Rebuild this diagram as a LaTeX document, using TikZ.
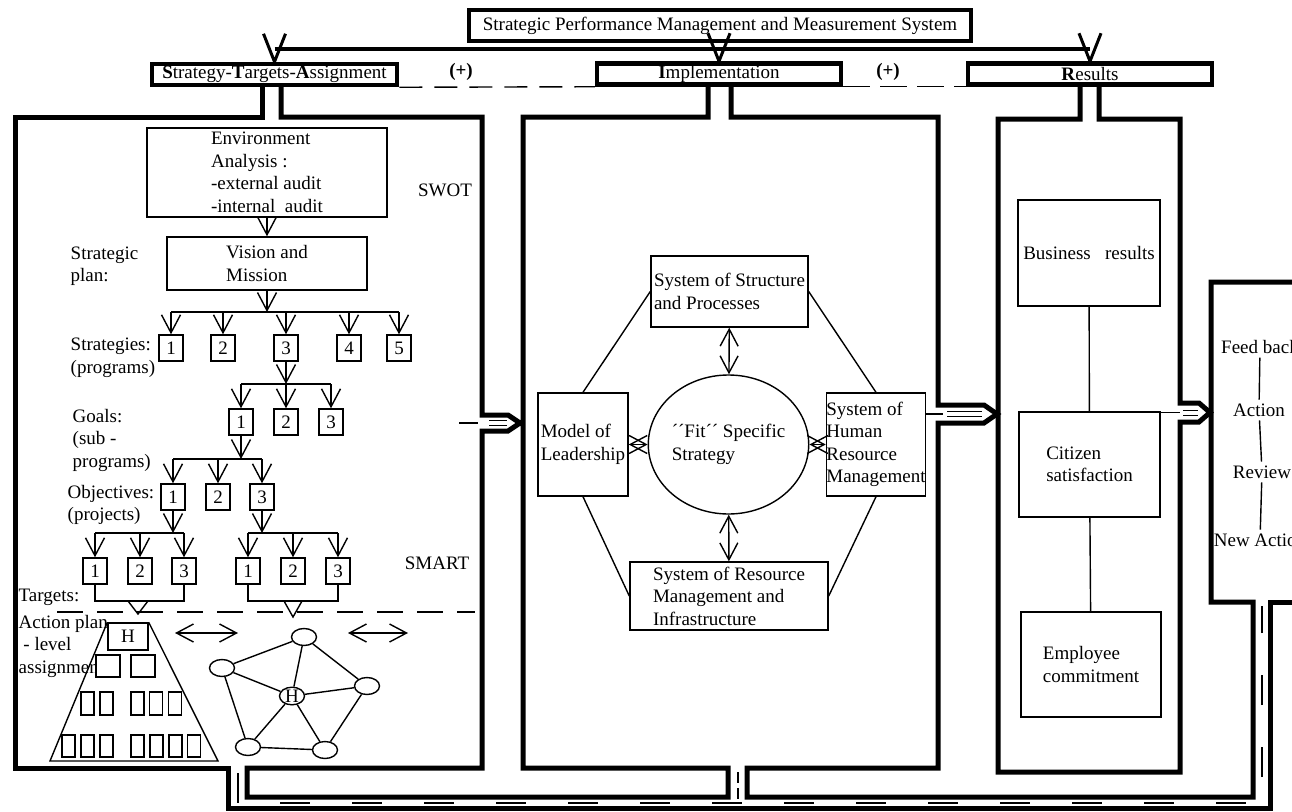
\documentclass[tikz,border=0pt]{standalone}
\usepackage{fontspec}
\setmainfont{Liberation Serif}
\usetikzlibrary{positioning,arrows.meta,shapes.geometric}

\begin{document}
\begin{tikzpicture}[x=1pt,y=-1pt,line width=1.4pt,
  font=\fontsize{19}{22.5}\selectfont,
  head/.style={draw,line width=4.5pt,minimum height=21pt,inner sep=0pt},
  box/.style={draw,fill=white,align=left,inner sep=0pt},
  num/.style={draw,minimum width=24pt,minimum height=26pt,inner sep=0pt},
  sq/.style={draw,fill=white,minimum width=13pt,minimum height=23pt,inner sep=0pt},
  ell/.style={ellipse,draw,minimum width=25pt,minimum height=17pt,inner sep=0pt},
  lbl/.style={anchor=west,align=left,inner sep=0pt},
  frame/.style={line width=5pt},
  tip/.style={-{Straight Barb[length=18pt,width=19pt]}},
  dbl/.style={{Straight Barb[length=17pt,width=18pt]}-{Straight Barb[length=17pt,width=18pt]}},
  pipe/.style={double,double distance=4pt,line width=1pt}]
  \useasboundingbox (0,0) rectangle (1292,811);
  % header
  \node[head,line width=4pt,minimum width=502pt,minimum height=31pt] (title) at (720,25.5)
    {Strategic Performance Management and Measurement System};
  \node[head,minimum width=245pt] (sta) at (274.5,74.5)
    {\textbf{S}trategy-\textbf{T}argets-\textbf{A}ssignment};
  \node[head,minimum width=244pt] (impl) at (719,74) {\textbf{I}mplementation};
  \node[head,minimum width=244pt] (res) at (1090,74) {\textbf{R}esults};
  \node[inner sep=0pt] (plus1) at (461,72) {\textbf{(+)}};
  \node[inner sep=0pt] (plus2) at (888,72) {\textbf{(+)}};
  \coordinate (bar) at (0,49);
  \draw[line width=4pt] (sta.north |- bar) -- (res.north |- bar);
  \foreach \n in {sta,impl,res}
    \draw[line width=3pt] ([shift={(-11,-28)}]\n.north) -- (\n.north) -- ([shift={(11,-28)}]\n.north);
  \draw[dash pattern=on 23pt off 12pt] (sta.south east) -- (impl.south west);
  \draw[dash pattern=on 27pt off 10pt] (impl.south east) -- (res.south west);
  % frames of the panels and the feeds between them
  \draw[frame] (262,86) -- (262,117) -- (15,117) -- (15,768) -- (228,768)
    -- (228,808) -- (1270,808) -- (1270,602) -- (1300,602);
  \draw[frame] (281,86) -- (281,117) -- (482,117) -- (482,415) -- (508,415)
    -- (520,423) -- (508,431) -- (482,431) -- (482,768) -- (247,768)
    -- (247,797) -- (728,797) -- (728,768) -- (523,768) -- (523,117)
    -- (708,117) -- (708,85);
  \draw[frame] (731,85) -- (731,117) -- (938,117) -- (938,405) -- (984,405)
    -- (997,414) -- (984,423) -- (938,423) -- (938,768) -- (747,768)
    -- (747,797) -- (1253,797) -- (1253,602) -- (1211,602) -- (1211,282)
    -- (1300,282);
  \draw[frame] (1080,85) -- (1080,119) -- (998,119) -- (998,772) -- (1180,772)
    -- (1180,422) -- (1199,422) -- (1210,412.5) -- (1199,403) -- (1180,403)
    -- (1180,119) -- (1099,119) -- (1099,85);
  \draw[dash pattern=on 30pt off 42pt] (238,773) -- (238,803) -- (1262,803) -- (1262,606);
  \draw[dash pattern=on 11pt off 5pt] (738,772) -- (738,800);
  % strategy - targets - assignment
  \node[box,minimum width=240pt,minimum height=89pt] (env) at (267,172.5)
    {Environment\\Analysis :\\-external audit\\-internal\ \ audit};
  \node[box,minimum width=200pt,minimum height=53pt] (vis) at (267,263.5) {Vision and\\Mission};
  \node (swot) at (445,190) {SWOT};
  \node[lbl] (plan) at (70,266) {Strategic\\plan:};
  \draw[tip] (env) -- (vis);
  \coordinate (jv) at (267,312);
  \draw[tip] (vis) -- (jv);
  \foreach \x [count=\i] in {171,223,286,349,399}
    \node[num] (s\i) at (\x,348) {\i};
  \draw (s1.north |- jv) -- (s5.north |- jv);
  \foreach \i in {1,...,5} \draw[tip] (s\i.north |- jv) -- (s\i.north);
  \node[lbl] (strl) at (70,358) {Strategies:\\(programs)};
  % goals
  \coordinate (jg) at (286,384);
  \draw[tip] (s3) -- (jg);
  \foreach \x [count=\i] in {241,286,331}
    \node[num] (g\i) at (\x,422) {\i};
  \draw (g1.north |- jg) -- (g3.north |- jg);
  \foreach \i in {1,2,3} \draw[tip] (g\i.north |- jg) -- (g\i.north);
  \node[lbl] (goall) at (72,440) {Goals:\\(sub -\\programs)};
  % objectives
  \coordinate (jo) at (241,459);
  \draw[tip] (g1) -- (jo);
  \foreach \x [count=\i] in {173,218,262}
    \node[num] (o\i) at (\x,497) {\i};
  \draw (o1.north |- jo) -- (o3.north |- jo);
  \foreach \i in {1,2,3} \draw[tip] (o\i.north |- jo) -- (o\i.north);
  \node[lbl] (objl) at (67,505) {Objectives:\\(projects)};
  % targets
  \coordinate (ja) at (173,533);
  \coordinate (jb) at (262,533);
  \draw[tip] (o1) -- (ja);
  \draw[tip] (o3) -- (jb);
  \foreach \x [count=\i] in {95,140,184}
    \node[num] (ta\i) at (\x,571) {\i};
  \foreach \x [count=\i] in {248,293,338}
    \node[num] (tb\i) at (\x,571) {\i};
  \draw (ta1.north |- ja) -- (ta3.north |- ja);
  \draw (tb1.north |- jb) -- (tb3.north |- jb);
  \foreach \i in {1,2,3} {
    \draw[tip] (ta\i.north |- ja) -- (ta\i.north);
    \draw[tip] (tb\i.north |- jb) -- (tb\i.north);
  }
  \node (smart) at (437,563) {SMART};
  \node[lbl] (tgl) at (18,597) {Targets:};
  \coordinate (ka) at (138,601);
  \coordinate (kb) at (293,601);
  \draw (ta1.south) |- (ka) -| (ta3.south);
  \draw (tb1.south) |- (kb) -| (tb3.south);
  \draw ([xshift=-10pt]ka) -- ++(10,13) -- ++(10,-13);
  \draw ([xshift=-9pt]kb) -- ++(9,16) -- ++(9,-16);
  \draw[dash pattern=on 26pt off 14pt] (57,612) -- (475,612);
  % action plan
  \node[lbl] (apl) at (18,646) {Action plan\\~- level\\assignment};
  \node[box,minimum width=40pt,minimum height=27pt,align=center] (hb) at (128,636.5) {H};
  \draw (hb.north west) -- (50,761) -- (218,761) -- (hb.north east);
  \foreach \x [count=\i] in {108,143}
    \node[sq,minimum width=24pt,minimum height=22pt] (ra\i) at (\x,666) {};
  \foreach \x [count=\i] in {87.5,106.5,137.5,156,175}
    \node[sq] (rb\i) at (\x,703.5) {};
  \foreach \x [count=\i] in {68.5,87.5,106.5,137.5,156.5,175.5,194}
    \node[sq,minimum height=22pt] (rc\i) at (\x,746) {};
  \coordinate (la) at (175,633); \coordinate (lb) at (238,633);
  \coordinate (lc) at (348,633); \coordinate (ld) at (408,633);
  \draw[dbl] (la) -- (lb);
  \draw[dbl] (lc) -- (ld);
  % network
  \node[ell] (n1) at (304,637) {};
  \node[ell] (n2) at (222,668) {};
  \node[ell] (n3) at (367,686) {};
  \node[ell] (nh) at (292,696) {H};
  \node[ell] (n4) at (248,747) {};
  \node[ell] (n5) at (325,750) {};
  \foreach \a/\b in {n1/n2,n1/n3,n1/nh,n2/nh,n2/n4,n3/nh,n3/n5,nh/n4,nh/n5,n4/n5}
    \draw (\a) -- (\b);
  \coordinate (f1) at (478,423);
  \draw ([xshift=-19pt]f1) -- (f1);
  \draw[pipe] (489,423) -- (507,423);
  % implementation
  \node[box,minimum width=157pt,minimum height=71pt] (str) at (729.5,291.5)
    {System of Structure\\and Processes};
  \node[box,minimum width=90pt,minimum height=103pt] (mod) at (583,444.5) {Model of\\Leadership};
  \node[ellipse,draw,minimum width=149pt,minimum height=139pt,align=left,inner sep=0pt]
    (fit) at (728.5,444.5) {´´Fit´´ Specific\\Strategy};
  \node[box,minimum width=92pt,minimum height=103pt] (hr) at (876,444.5)
    {System of\\Human\\Resource\\Management};
  \node[box,minimum width=198pt,minimum height=68pt] (rsc) at (729,596)
    {System of Resource\\Management and\\Infrastructure};
  \draw (str.west) -- (mod.north);
  \draw (str.east) -- (hr.north);
  \draw (mod.south) -- (rsc.west);
  \draw (hr.south) -- (rsc.east);
  \draw[dbl] (str) -- (fit);
  \draw[dbl] (fit) -- (rsc);
  \draw[dbl] (mod) -- (fit);
  \draw[dbl] (fit) -- (hr);
  \coordinate (f2) at (943,414);
  \draw (hr.east |- f2) -- (f2);
  \draw[pipe] (947,414) -- (982,414);
  % results
  \node[box,minimum width=142pt,minimum height=106pt,align=center] (bus) at (1089,253)
    {Business\ \ \ results};
  \node[box,minimum width=141pt,minimum height=105pt] (cit) at (1089.5,464.5) {Citizen\\satisfaction};
  \node[box,minimum width=140pt,minimum height=105pt] (emp) at (1091,664.5) {Employee\\commitment};
  \draw (bus) -- (cit);
  \draw (cit) -- (emp);
  \coordinate (f3) at (1180,412.5);
  \draw (cit.east |- f3) -- (f3);
  \draw[pipe] (1183,412.5) -- (1198,412.5);
  % feed back loop
  \node (fb) at (1260,347) {Feed back};
  \node (act) at (1259,410) {Action};
  \node (rev) at (1262,472) {Review};
  \node (na) at (1260,540) {New Action};
  \draw (fb) -- (act);
  \draw (act) -- (rev);
  \draw (rev) -- (na);
\end{tikzpicture}
\end{document}
